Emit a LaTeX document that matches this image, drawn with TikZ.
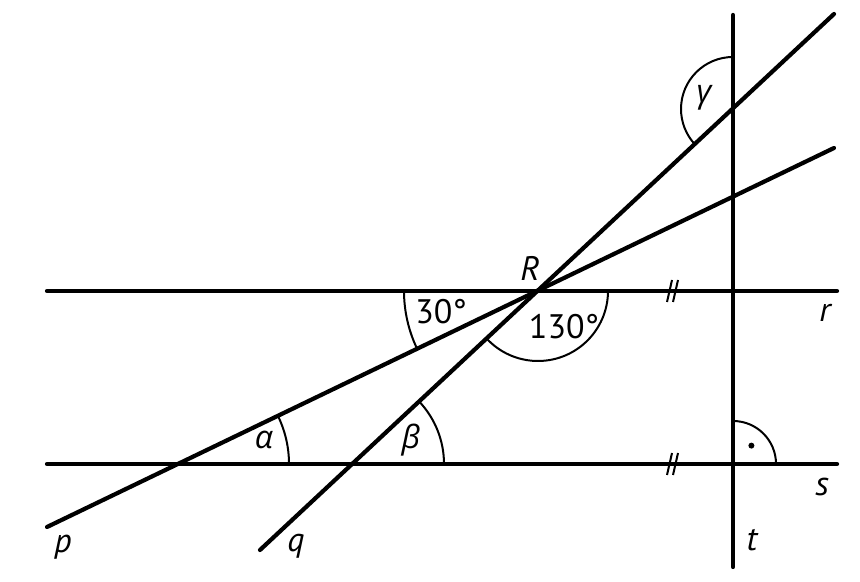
\documentclass[tikz,border=0pt]{standalone}
\usepackage{fontspec}
\setmainfont{PT Sans}
\newfontfamily\greekfont{Open Sans}
\usetikzlibrary{calc}

\begin{document}
\begin{tikzpicture}[x=0.5pt, y=0.5pt,
  line/.style={line width=2.1pt, line cap=round},
  angarc/.style={line width=1pt},
  tick/.style={line width=1pt},
  lab/.style={font=\fontsize{17}{20}\selectfont\itshape, inner sep=0pt},
  glab/.style={font=\fontsize{16}{19}\selectfont\greekfont\itshape, inner sep=0pt}]
  \useasboundingbox (0,0) rectangle (860,582);
  % points
  \coordinate (R) at (538,291);
  \coordinate (r1) at (47,291);   \coordinate (r2) at (837,291);
  \coordinate (s1) at (47,118);   \coordinate (s2) at (837,118);
  \coordinate (t1) at (733,15);   \coordinate (t2) at (733,567);
  \coordinate (p1) at (47,55);    \coordinate (p2) at (834,434);
  \coordinate (q1) at (260,32);   \coordinate (q2) at (834,568);
  \coordinate (A) at (179,118);   \coordinate (B) at (353,118);
  \coordinate (C) at (733,473);   \coordinate (T) at (733,118);
  % lines
  \draw[line] (r1) -- (r2);
  \draw[line] (s1) -- (s2);
  \draw[line] (t1) -- (t2);
  \draw[line] (p1) -- (p2);
  \draw[line] (q1) -- (q2);
  % angles
  \draw[angarc] ($(R)+(180:134)$) arc (180:205.7:134);
  \draw[angarc] ($(R)+(223:70)$) arc (223:360:70);
  \draw[angarc] ($(A)+(0:110)$) arc (0:25.7:110);
  \draw[angarc] ($(B)+(0:91)$) arc (0:43:91);
  \draw[angarc] ($(C)+(90:52)$) arc (90:223:52);
  \draw[angarc] ($(T)+(0:43)$) arc (0:90:43);
  \fill ($(T)+(45:26)$) circle (3);
  % parallel marks
  \foreach \y in {291,118} {
    \draw[tick] (667,\y-11) -- (672,\y+11);
    \draw[tick] (673,\y-11) -- (678,\y+11);
  }
  % labels
  \node[lab] (labR) at (530,314) {R};
  \node[font=\fontsize{17}{20}\selectfont, inner sep=0pt] (lab30) at (441,270) {30°};
  \node[font=\fontsize{17}{20}\selectfont, inner sep=0pt] (lab130) at (564,255) {130°};
  \node[glab] (laba) at (264,142) {α};
  \node[glab] (labb) at (411,142) {β};
  \node[glab] (labg) at (704,484) {γ};
  \node[lab] (labr) at (825,269) {r};
  \node[lab] (labs) at (822,95) {s};
  \node[lab] (labp) at (63,35) {p};
  \node[lab] (labq) at (296,36) {q};
  \node[lab] (labt) at (752,42) {t};
\end{tikzpicture}
\end{document}
